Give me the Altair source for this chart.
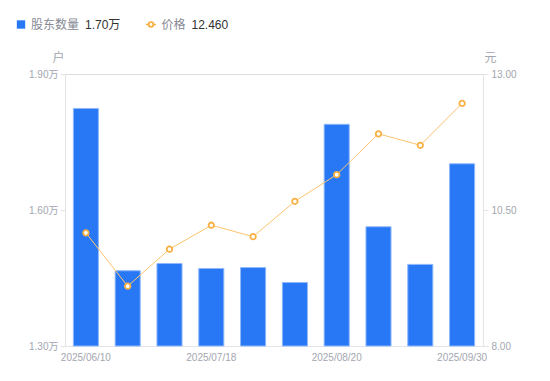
import altair as alt
import pandas as pd

dates = ["2025/06/10", "2025/06/20", "2025/06/30", "2025/07/18", "2025/07/31",
         "2025/08/10", "2025/08/20", "2025/08/31", "2025/09/19", "2025/09/30"]
holders = [1.824, 1.466, 1.482, 1.471, 1.473, 1.440, 1.789, 1.563, 1.480, 1.702]
prices = [10.08, 9.10, 9.78, 10.22, 10.01, 10.66, 11.15, 11.90, 11.69, 12.46]
shown_dates = ["2025/06/10", "2025/07/18", "2025/08/20", "2025/09/30"]
left_ticks = [1.3, 1.6, 1.9]
right_ticks = [8.0, 10.5, 13.0]

df = pd.DataFrame({"date": dates, "holders": holders, "price": prices})
one = pd.DataFrame({"a": [0]})

FONT = "Liberation Sans, Noto Sans CJK SC, sans-serif"
BLUE = "#2878f5"
ORANGE = "#f9b042"
AX = "#e3e4e8"
LAB = "#a3a6b0"

xenc = alt.X("date:N", sort=dates, title=None,
             scale=alt.Scale(paddingInner=0.4, paddingOuter=0.2),
             axis=alt.Axis(values=shown_dates, ticks=False, domainColor=AX,
                           labelColor=LAB, labelFontSize=10, labelPadding=6,
                           labelAngle=0, labelFont=FONT))

bars = alt.Chart(df).mark_bar(color=BLUE, stroke="#8fb8fa", strokeWidth=1).encode(
    x=xenc,
    y=alt.Y("holders:Q", scale=alt.Scale(domain=[1.3, 1.9], nice=False, zero=False),
            axis=alt.Axis(values=left_ticks, labelExpr="format(datum.value, '.2f') + '万'",
                          grid=False, domainColor=AX, tickColor=AX, tickSize=5,
                          labelColor=LAB, labelFontSize=10, labelPadding=2, labelFont=FONT,
                          title="户", titleAngle=0, titleX=-7, titleY=-17,
                          titleAlign="center", titleBaseline="middle",
                          titleColor=LAB, titleFontSize=12, titleFontWeight="normal",
                          titleFont=FONT)),
    y2=alt.datum(1.3),
)

yprice = alt.Y("price:Q", scale=alt.Scale(domain=[8, 13], nice=False, zero=False),
               axis=alt.Axis(orient="right", values=right_ticks, format=".2f",
                             grid=False, domainColor=AX, tickColor=AX, tickSize=5,
                             labelColor=LAB, labelFontSize=10, labelPadding=3, labelFont=FONT,
                             title="元", titleAngle=0, titleX=7, titleY=-17,
                             titleAlign="center", titleBaseline="middle",
                             titleColor=LAB, titleFontSize=12, titleFontWeight="normal",
                             titleFont=FONT))

line = alt.Chart(df).mark_line(color="#fbc46e", strokeWidth=1).encode(x=xenc, y=yprice)
pts = alt.Chart(df).mark_point(shape="circle", size=30, filled=True, fill="white",
                               stroke=ORANGE, strokeWidth=1.8, opacity=1).encode(x=xenc, y=yprice)
price_layer = alt.layer(line, pts)

LY = -49.5
leg_sq = alt.Chart(one).mark_square(size=70, color=BLUE, opacity=1).encode(
    x=alt.value(-44), y=alt.value(LY))
leg_t1 = alt.Chart(one).mark_text(text="股东数量", align="left", baseline="middle",
                                  fontSize=12, color="#868994", font=FONT).encode(
    x=alt.value(-34), y=alt.value(LY))
leg_v1 = alt.Chart(one).mark_text(text="1.70万", align="left", baseline="middle",
                                  fontSize=12, color="#333333", font=FONT).encode(
    x=alt.value(20), y=alt.value(LY))
leg_ln = alt.Chart(one).mark_rule(color=ORANGE, strokeWidth=1.5).encode(
    x=alt.value(81), x2=alt.value(91), y=alt.value(LY))
leg_pt = alt.Chart(one).mark_point(shape="circle", size=22, filled=True, fill="white",
                                   stroke=ORANGE, strokeWidth=1.8, opacity=1).encode(
    x=alt.value(86), y=alt.value(LY))
leg_t2 = alt.Chart(one).mark_text(text="价格", align="left", baseline="middle",
                                  fontSize=12, color="#868994", font=FONT).encode(
    x=alt.value(96.5), y=alt.value(LY))
leg_v2 = alt.Chart(one).mark_text(text="12.460", align="left", baseline="middle",
                                  fontSize=12, color="#333333", font=FONT).encode(
    x=alt.value(126.5), y=alt.value(LY))

main = alt.layer(bars, price_layer).resolve_scale(y="independent")

chart = alt.layer(main, leg_sq, leg_t1, leg_v1, leg_ln, leg_pt, leg_t2, leg_v2).properties(
    width=418, height=272,
    autosize=alt.AutoSizeParams(type="none"),
    padding={"left": 57, "top": 66, "right": 57, "bottom": 25},
).configure_view(stroke=None).configure(background="white")

chart.save("out.html", embed_options={"renderer": "svg", "actions": False})
